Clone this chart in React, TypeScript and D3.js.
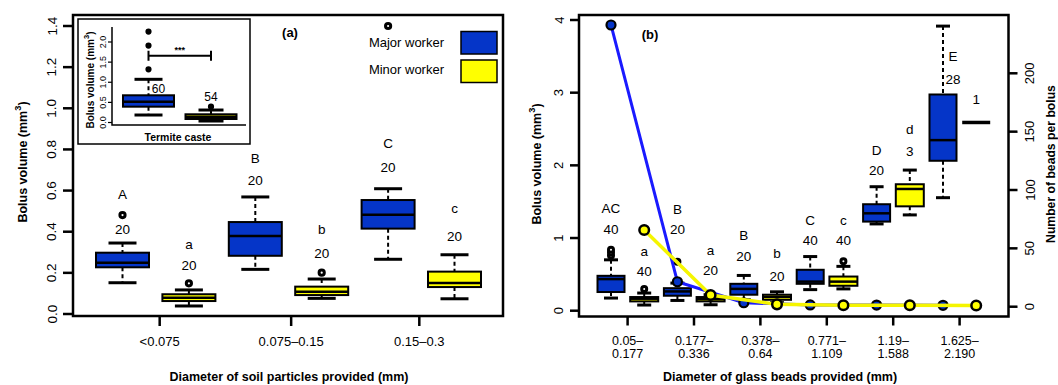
import React from 'react'
import * as d3 from 'd3'

// ---- panel (a): soil particles ----
const soilGroups = ['<0.075', '0.075–0.15', '0.15–0.3']
const soilTickAt = [1.56, 3.54, 5.47]
// [lower whisker, Q1, median, Q3, upper whisker]
const soilMajor = [
  [0.152, 0.227, 0.249, 0.298, 0.345],
  [0.217, 0.283, 0.379, 0.447, 0.569],
  [0.266, 0.415, 0.483, 0.554, 0.609],
]
const soilMajorOut = [[0.481], [], [1.4]]
const soilMinor = [
  [0.039, 0.063, 0.079, 0.096, 0.117],
  [0.076, 0.092, 0.108, 0.133, 0.17],
  [0.074, 0.131, 0.151, 0.206, 0.288],
]
const soilMinorOut = [[0.149], [0.201], []]
const soilMajorN = ['20', '20', '20']
const soilMinorN = ['20', '20', '20']
const soilMajorLetters = ['A', 'B', 'C']
const soilMinorLetters = ['a', 'b', 'c']
const soilMajorNAt = [0.413, 0.651, 0.711]
const soilMajorLetterAt = [0.579, 0.758, 0.83]
const soilMinorNAt = [0.235, 0.292, 0.376]
const soilMinorLetterAt = [0.34, 0.413, 0.512]

// inset: termite caste
const casteMajor = [0.186, 0.393, 0.517, 0.676, 1.073]
const casteMajorOut = [1.32, 1.91, 2.26]
const casteMinor = [0.037, 0.087, 0.144, 0.204, 0.31]
const casteMinorOut = [0.393]
const casteN = ['60', '54']
const casteNAt = [0.825, 0.626]
const casteBracketAt = 1.66

// ---- panel (b): glass beads ----
const beadGroups = [
  ['0.05–', '0.177'],
  ['0.177–', '0.336'],
  ['0.378–', '0.64'],
  ['0.771–', '1.109'],
  ['1.19–', '1.588'],
  ['1.625–', '2.190'],
]
const beadMajor = [
  [0.174, 0.257, 0.435, 0.48, 0.7],
  [0.141, 0.206, 0.265, 0.31, 0.38],
  [0.15, 0.22, 0.3, 0.37, 0.485],
  [0.29, 0.37, 0.4, 0.563, 0.745],
  [1.194, 1.226, 1.34, 1.465, 1.706],
  [1.555, 2.063, 2.347, 2.975, 3.916],
]
const beadMajorOut = [[0.76, 0.8, 0.84], [0.675], [], [], [], []]
const beadMinor = [
  [0.078, 0.128, 0.165, 0.188, 0.243],
  [0.082, 0.128, 0.16, 0.188, 0.22],
  [0.11, 0.15, 0.19, 0.22, 0.26],
  [0.3, 0.343, 0.4, 0.47, 0.61],
  [1.318, 1.436, 1.675, 1.74, 1.935],
  [2.59, 2.59, 2.59, 2.59, 2.59],
]
const beadMinorOut = [[0.298], [], [], [0.68], [], []]
const beadMajorN = ['40', '20', '20', '40', '20', '28']
const beadMinorN = ['40', '20', '20', '40', '3', '1']
const beadMajorLetters = ['AC', 'B', 'B', 'C', 'D', 'E']
const beadMinorLetters = ['a', 'a', 'b', 'c', 'd', '']
const beadMajorNAt = [1.112, 1.121, 0.745, 0.965, 1.935, 3.185]
const beadMajorLetterAt = [1.41, 1.396, 1.034, 1.24, 2.2, 3.5]
const beadMinorNAt = [0.539, 0.549, 0.471, 0.961, 2.196, 2.906]
const beadMinorLetterAt = [0.814, 0.824, 0.792, 1.235, 2.494, 0]
// number of beads per bolus (right axis)
const beadMajorCount = [241.4, 21.4, 3.4, 1.5, 1.4, 1.2]
const beadMinorCount = [65.7, 10.0, 2.0, 1.2, 1.2, 1.0]

const BLUE = '#0535c8'
const YELLOW = '#ffff00'
const FONT = '"Liberation Sans", Arial, sans-serif'

function Box({ cx, w, capW, stats, out, y, fill, r = 3 }: any) {
  const [lo, q1, med, q3, hi] = stats
  if (lo === hi) {
    return <line x1={cx - w / 2} x2={cx + w / 2} y1={y(med)} y2={y(med)} stroke="#000" strokeWidth={3.5} />
  }
  return (
    <g>
      <line x1={cx} x2={cx} y1={y(hi)} y2={y(q3)} stroke="#000" strokeWidth={2} strokeDasharray="4,3" />
      <line x1={cx} x2={cx} y1={y(q1)} y2={y(lo)} stroke="#000" strokeWidth={2} strokeDasharray="4,3" />
      <line x1={cx - capW / 2} x2={cx + capW / 2} y1={y(hi)} y2={y(hi)} stroke="#000" strokeWidth={3} />
      <line x1={cx - capW / 2} x2={cx + capW / 2} y1={y(lo)} y2={y(lo)} stroke="#000" strokeWidth={3} />
      <rect x={cx - w / 2} y={y(q3)} width={w} height={y(q1) - y(q3)} fill={fill} stroke="#000" strokeWidth={2} />
      <line x1={cx - w / 2} x2={cx + w / 2} y1={y(med)} y2={y(med)} stroke="#000" strokeWidth={2.5} />
      {out.map((o: number, i: number) => (
        <circle key={i} cx={cx} cy={y(o)} r={r} fill="#fff" stroke="#000" strokeWidth={3} />
      ))}
    </g>
  )
}

function Title({ x, y, rotate = false, size = 12.5 }: any) {
  return (
    <text
      x={x}
      y={y}
      transform={rotate ? `rotate(-90, ${x}, ${y})` : undefined}
      textAnchor="middle"
      dominantBaseline="central"
      fontWeight="bold"
      fontSize={size}
    >
      Bolus volume (mm<tspan dy={-size * 0.4} fontSize={size * 0.75}>3</tspan>
      <tspan dy={size * 0.4}>)</tspan>
    </text>
  )
}

export default function App() {
  // panel a
  const aL = 73, aR = 503, aT = 15, aB = 316
  const yA = d3.scaleLinear().domain([0, 1.4]).range([314, 26])
  const xA = d3.scaleLinear().domain([1, 6]).range([122.5, 454.5])

  // inset
  const yI = d3.scaleLinear().domain([0, 2]).range([122.5, 42])
  const xI = d3.scaleLinear().domain([1, 2]).range([148.5, 211])

  // panel b
  const bL = 579, bR = 1008.5, bT = 15, bB = 316.5
  const yB = d3.scaleLinear().domain([0, 4]).range([310.7, 20])
  const yC = d3.scaleLinear().domain([0, 200]).range([306.7, 73.3])
  const xB = d3.scaleLinear().domain([1, 12]).range([611, 976.2])

  const majorLine = d3.line<number>().x((_, i) => xB(2 * i + 1)).y(d => yC(d))
  const minorLine = d3.line<number>().x((_, i) => xB(2 * i + 2)).y(d => yC(d))

  const label = (x: number, y: number, t: string, key: string, size = 13.5) => (
    <text key={key} x={x} y={y} textAnchor="middle" dominantBaseline="central" fontSize={size}>
      {t}
    </text>
  )

  return (
    <svg
      width={1058}
      height={385}
      style={{ position: 'absolute', left: 0, top: 0, background: '#fff' }}
      fontFamily={FONT}
    >
      {/* ===== panel a ===== */}
      <g>
        {soilMajor.map((s, i) => (
          <Box key={'am' + i} cx={xA(2 * i + 1)} w={53} capW={28} stats={s} out={soilMajorOut[i]} y={yA} fill={BLUE} r={2.6} />
        ))}
        {soilMinor.map((s, i) => (
          <Box key={'an' + i} cx={xA(2 * i + 2)} w={53} capW={28} stats={s} out={soilMinorOut[i]} y={yA} fill={YELLOW} r={2.6} />
        ))}
        {soilMajor.map((_, i) => [
          label(xA(2 * i + 1), yA(soilMajorNAt[i]), soilMajorN[i], 'amn' + i),
          label(xA(2 * i + 1), yA(soilMajorLetterAt[i]), soilMajorLetters[i], 'aml' + i),
          label(xA(2 * i + 2), yA(soilMinorNAt[i]), soilMinorN[i], 'ann' + i),
          label(xA(2 * i + 2), yA(soilMinorLetterAt[i]), soilMinorLetters[i], 'anl' + i),
        ])}
        <rect x={aL} y={aT} width={aR - aL} height={aB - aT} fill="none" stroke="#000" strokeWidth={2.5} />
        {yA.ticks(7).map(t => (
          <g key={'ya' + t}>
            <line x1={aL - 10} x2={aL} y1={yA(t)} y2={yA(t)} stroke="#000" strokeWidth={2.5} />
            <text x={52} y={yA(t)} transform={`rotate(-90, 52, ${yA(t)})`} textAnchor="middle" dominantBaseline="central" fontSize={13.5}>
              {d3.format('.1f')(t)}
            </text>
          </g>
        ))}
        {soilGroups.map((g, i) => (
          <g key={'xa' + i}>
            <line x1={xA(soilTickAt[i])} x2={xA(soilTickAt[i])} y1={aB} y2={aB + 10} stroke="#000" strokeWidth={2.5} />
            {label(xA(soilTickAt[i]), 341, g, 'xal' + i, 13)}
          </g>
        ))}
        <text x={289} y={377} textAnchor="middle" dominantBaseline="central" fontWeight="bold" fontSize={12.5}>
          Diameter of soil particles provided (mm)
        </text>
        <Title x={23} y={162} rotate size={12.5} />
        <text x={290} y={32} textAnchor="middle" dominantBaseline="central" fontWeight="bold" fontSize={13}>(a)</text>

        {/* legend */}
        <text x={444} y={42} textAnchor="end" dominantBaseline="central" fontSize={13}>Major worker</text>
        <rect x={461} y={31.5} width={36} height={22.5} fill={BLUE} stroke="#000" strokeWidth={1.5} />
        <text x={444} y={69.5} textAnchor="end" dominantBaseline="central" fontSize={13}>Minor worker</text>
        <rect x={461} y={60} width={36} height={22.5} fill={YELLOW} stroke="#000" strokeWidth={1.5} />

        {/* inset */}
        <rect x={78} y={19} width={172} height={125} fill="#fff" stroke="#000" strokeWidth={1.5} />
        <Box cx={xI(1)} w={51} capW={28} stats={casteMajor} out={casteMajorOut} y={yI} fill={BLUE} r={1.6} />
        <Box cx={xI(2)} w={51} capW={25} stats={casteMinor} out={casteMinorOut} y={yI} fill={YELLOW} r={1.6} />
        {label(xI(1) + 10, yI(casteNAt[0]), casteN[0], 'in0', 12)}
        {label(xI(2), yI(casteNAt[1]), casteN[1], 'in1', 12)}
        <path
          d={`M${xI(1)},${yI(casteBracketAt) - 5}V${yI(casteBracketAt) + 5}M${xI(1)},${yI(casteBracketAt)}H${xI(2)}M${xI(2)},${yI(casteBracketAt) - 5}V${yI(casteBracketAt) + 5}`}
          stroke="#000"
          strokeWidth={2}
          fill="none"
        />
        <text x={(xI(1) + xI(2)) / 2} y={yI(casteBracketAt) - 3} textAnchor="middle" fontSize={9} fontWeight="bold">***</text>
        <path d="M112,27V125H246" stroke="#000" strokeWidth={1.5} fill="none" />
        {yI.ticks(4).map(t => (
          <g key={'yi' + t}>
            <line x1={108} x2={112} y1={yI(t)} y2={yI(t)} stroke="#000" strokeWidth={1.2} />
            <text x={102.5} y={yI(t)} transform={`rotate(-90, 102.5, ${yI(t)})`} textAnchor="middle" dominantBaseline="central" fontSize={9}>
              {d3.format('.1f')(t)}
            </text>
          </g>
        ))}
        <Title x={90} y={80} rotate size={10} />
        <text x={178} y={137} textAnchor="middle" dominantBaseline="central" fontWeight="bold" fontSize={10.5}>Termite caste</text>
      </g>

      {/* ===== panel b ===== */}
      <g>
        {beadMajor.map((s, i) => (
          <Box key={'bm' + i} cx={xB(2 * i + 1)} w={27} capW={14} stats={s} out={beadMajorOut[i]} y={yB} fill={BLUE} r={2.5} />
        ))}
        {beadMinor.map((s, i) => (
          <Box key={'bn' + i} cx={xB(2 * i + 2)} w={28} capW={14} stats={s} out={beadMinorOut[i]} y={yB} fill={YELLOW} r={2.5} />
        ))}
        {beadMajor.map((_, i) => {
          const dx = i === 5 ? 10 : 0
          return [
            label(xB(2 * i + 1) + dx, yB(beadMajorNAt[i]), beadMajorN[i], 'bmn' + i),
            label(xB(2 * i + 1) + dx, yB(beadMajorLetterAt[i]), beadMajorLetters[i], 'bml' + i),
            label(xB(2 * i + 2), yB(beadMinorNAt[i]), beadMinorN[i], 'bnn' + i),
            beadMinorLetters[i] ? label(xB(2 * i + 2), yB(beadMinorLetterAt[i]), beadMinorLetters[i], 'bnl' + i) : null,
          ]
        })}
        <path d={majorLine(beadMajorCount) || ''} fill="none" stroke="#1a1aff" strokeWidth={3} />
        {beadMajorCount.map((c, i) => (
          <circle key={'pm' + i} cx={xB(2 * i + 1)} cy={yC(c)} r={4.5} fill={BLUE} stroke="#000" strokeWidth={2.2} />
        ))}
        <path d={minorLine(beadMinorCount) || ''} fill="none" stroke="#f5f500" strokeWidth={3.5} />
        {beadMinorCount.map((c, i) => (
          <circle key={'pn' + i} cx={xB(2 * i + 2)} cy={yC(c)} r={4.8} fill={YELLOW} stroke="#000" strokeWidth={2.5} />
        ))}
        <rect x={bL} y={bT} width={bR - bL} height={bB - bT} fill="none" stroke="#000" strokeWidth={2.5} />
        {yB.ticks(4).map(t => (
          <g key={'yb' + t}>
            <line x1={bL - 9} x2={bL} y1={yB(t)} y2={yB(t)} stroke="#000" strokeWidth={2.5} />
            <text x={559} y={yB(t)} transform={`rotate(-90, 559, ${yB(t)})`} textAnchor="middle" dominantBaseline="central" fontSize={13}>
              {t}
            </text>
          </g>
        ))}
        {yC.ticks(4).map(t => (
          <g key={'yc' + t}>
            <line x1={bR} x2={bR + 9} y1={yC(t)} y2={yC(t)} stroke="#000" strokeWidth={2.5} />
            <text x={1030} y={yC(t)} transform={`rotate(-90, 1030, ${yC(t)})`} textAnchor="middle" dominantBaseline="central" fontSize={13}>
              {t}
            </text>
          </g>
        ))}
        {beadGroups.map((g, i) => (
          <g key={'xb' + i}>
            <line x1={xB(2 * i + 1.5)} x2={xB(2 * i + 1.5)} y1={bB} y2={bB + 9} stroke="#000" strokeWidth={2.5} />
            {label(xB(2 * i + 1.5), 340.5, g[0], 'xbl0' + i, 12.5)}
            {label(xB(2 * i + 1.5), 354, g[1], 'xbl1' + i, 12.5)}
          </g>
        ))}
        <text x={780} y={377} textAnchor="middle" dominantBaseline="central" fontWeight="bold" fontSize={12.5}>
          Diameter of glass beads provided (mm)
        </text>
        <Title x={537} y={164} rotate size={12.5} />
        <text x={1051} y={164} transform="rotate(-90, 1051, 164)" textAnchor="middle" dominantBaseline="central" fontWeight="bold" fontSize={12.2}>
          Number of beads per bolus
        </text>
        <text x={650} y={34} textAnchor="middle" dominantBaseline="central" fontWeight="bold" fontSize={13}>(b)</text>
      </g>
    </svg>
  )
}
